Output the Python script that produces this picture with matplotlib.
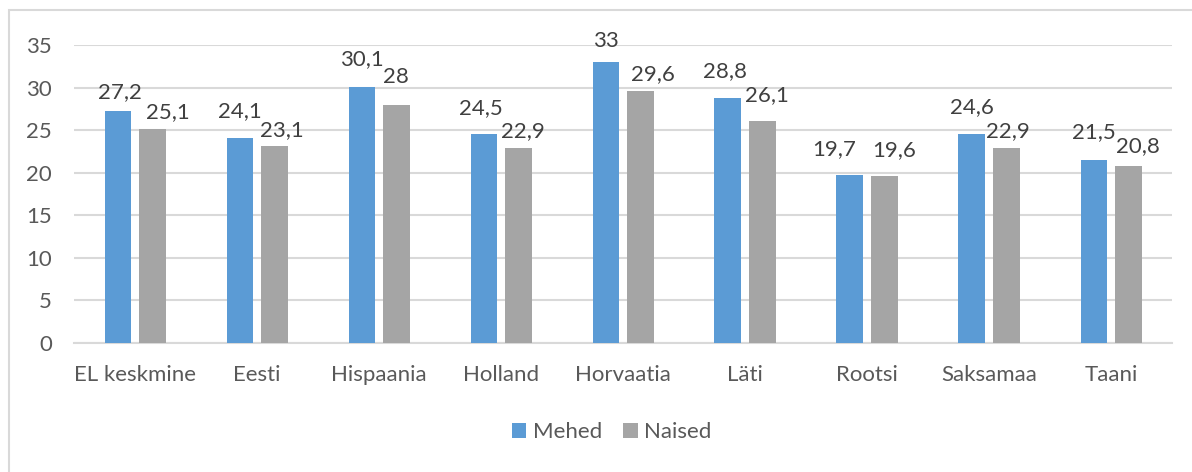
import numpy as np
import matplotlib.pyplot as plt
from matplotlib.patches import Rectangle

# andmed
riigid = ['EL keskmine', 'Eesti', 'Hispaania', 'Holland', 'Horvaatia', 'Läti', 'Rootsi', 'Saksamaa', 'Taani']
mehed = [27.2, 24.1, 30.1, 24.5, 33, 28.8, 19.7, 24.6, 21.5]
naised = [25.1, 23.1, 28, 22.9, 29.6, 26.1, 19.6, 22.9, 20.8]

# siltide nihked (px): (dx, kõrgus tulba kohal)
nihe_mehed = [(2, 13), (0, 21), (0, 22), (-3, 20), (0, 15), (-3, 21), (-16, 20), (0, 20), (0, 22)]
nihe_naised = [(16, 11), (8, 10), (0, 22), (5, 11), (13, 11), (5, 20), (10, 20), (2, 11), (10, 14)]

plt.rcParams['font.family'] = ['Lato', 'DejaVu Sans']

W, H = 1192, 472
fig = plt.figure(figsize=(W / 100, H / 100), dpi=100)
ax = fig.add_axes([74 / W, 1 - 343 / H, (1172 - 74) / W, (343 - 45) / H])

# raam ümber graafiku
fig.patches.append(Rectangle((9 / W, -0.1), 1.2, 1 - 10 / H + 0.1, transform=fig.transFigure,
                             fill=False, edgecolor='#d9d9d9', linewidth=1.5))

x = np.arange(len(riigid))
bw = 0.22
b1 = ax.bar(x - bw / 2 - 0.03, mehed, bw, color='#5B9BD5', label='Mehed', zorder=3)
b2 = ax.bar(x + bw / 2 + 0.03, naised, bw, color='#A5A5A5', label='Naised', zorder=3)

fmt = lambda v: ('%g' % v).replace('.', ',')
for bars, vals, nihked in ((b1, mehed, nihe_mehed), (b2, naised, nihe_naised)):
    for r, v, (dx, dy) in zip(bars, vals, nihked):
        ax.annotate(fmt(v), (r.get_x() + r.get_width() / 2, v), xytext=(dx * 0.72, dy * 0.72),
                    textcoords='offset points', ha='center', va='baseline',
                    fontsize=16, color='#404040', annotation_clip=False)

ax.set_xlim(-0.5, len(riigid) - 0.5)
ax.set_ylim(0, 35)
ax.set_yticks(range(0, 36, 5))
ax.set_xticks(x)
ax.set_xticklabels(riigid)
ax.tick_params(length=0, labelsize=16, labelcolor='#595959')
ax.tick_params(axis='x', pad=16)
ax.tick_params(axis='y', pad=16)
ax.grid(axis='y', color='#d9d9d9', linewidth=1.5, zorder=0)
for s in ['top', 'right', 'left']:
    ax.spines[s].set_visible(False)
ax.spines['bottom'].set_color('#d9d9d9')
ax.spines['bottom'].set_linewidth(1.5)

fig.legend(handles=[b1, b2], loc='center', bbox_to_anchor=(612 / W, 1 - 432 / H), ncol=2,
           frameon=False, fontsize=16, labelcolor='#595959', handlelength=0.64, handleheight=0.64,
           handletextpad=0.3, columnspacing=0.95)

plt.savefig('out.png', dpi=100)
